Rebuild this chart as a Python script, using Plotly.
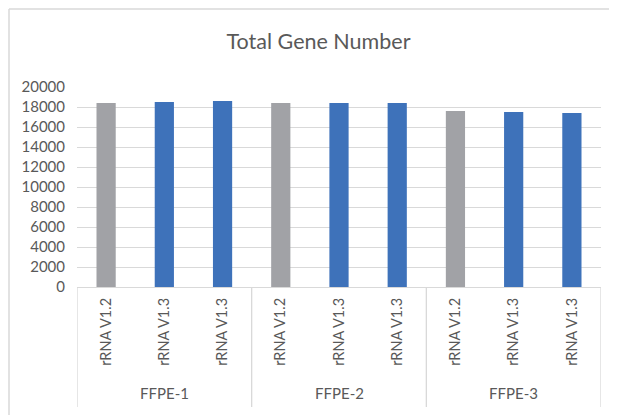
import plotly.graph_objects as go

# Data
groups = ["FFPE-1", "FFPE-2", "FFPE-3"]
labels = ["rRNA V1.2", "rRNA V1.3", "rRNA V1.3",
          "rRNA V1.2", "rRNA V1.3", "rRNA V1.3",
          "rRNA V1.2", "rRNA V1.3", "rRNA V1.3"]
values = [18400, 18500, 18600, 18400, 18400, 18400, 17600, 17500, 17400]
y_ticks = [0, 2000, 4000, 6000, 8000, 10000, 12000, 14000, 16000, 18000, 20000]
y_tick_text = [str(v) for v in y_ticks]

GREY = "#a1a2a6"
BLUE = "#3e72ba"
TEXT = "#595959"
GRID = "#d9d9d9"

x_pos = list(range(len(labels)))
colors = [GREY if l.endswith("1.2") else BLUE for l in labels]

fig = go.Figure()
fig.add_trace(go.Bar(x=x_pos, y=values, marker=dict(color=colors, line=dict(width=0)),
                     width=0.33, hoverinfo="y"))

OFF = 8  # page body margin offset
W, H = 617 - OFF, 415 - OFF
ml, mr, mt, mb = 77 - OFF, 16, 87 - OFF, 128
pw, ph = W - ml - mr, H - mt - mb

def py(yp):  # reference pixel y -> paper y
    return (H - mb - (yp - OFF)) / ph

def pxx(xp):  # reference pixel x -> paper x
    return (xp - OFF - ml) / pw

shapes = []
# outer chart border: only top and left edges are visible
shapes.append(dict(type="line", xref="paper", yref="paper",
                   x0=pxx(9), x1=pxx(617), y0=py(9), y1=py(9),
                   line=dict(color=GRID, width=1.5), layer="below"))
shapes.append(dict(type="line", xref="paper", yref="paper",
                   x0=pxx(9), x1=pxx(9), y0=py(9), y1=py(415),
                   line=dict(color=GRID, width=1.5), layer="below"))
n_per = len(labels) // len(groups)
for i in range(len(groups) + 1):
    xb = i * n_per - 0.5
    shapes.append(dict(type="line", xref="x", yref="paper", x0=xb, x1=xb,
                       y0=0, y1=py(407), line=dict(color=GRID, width=1.3)))

annotations = []
for i, g in enumerate(groups):
    annotations.append(dict(text=g, xref="x", yref="paper", x=i * n_per + (n_per - 1) / 2,
                            y=py(393), showarrow=False, yanchor="middle",
                            font=dict(family="Lato", size=15, color=TEXT)))

fig.update_layout(
    width=W, height=H,
    margin=dict(l=ml, r=mr, t=mt, b=mb),
    paper_bgcolor="white", plot_bgcolor="white",
    showlegend=False,
    title=dict(text="Total Gene Number", x=(318.5 - OFF) / W, xanchor="center", xref="container",
               y=1 - (41 - OFF) / H, yanchor="middle", yref="container",
               font=dict(family="Lato", size=21.5, color=TEXT)),
    xaxis=dict(range=[-0.5, len(labels) - 0.5], tickmode="array", tickvals=x_pos, ticktext=labels,
               tickangle=-90, showgrid=False, zeroline=False, showline=True, linecolor=GRID,
               linewidth=1.3, ticks="", ticklabelstandoff=4,
               tickfont=dict(family="Lato", size=14.5, color=TEXT), fixedrange=True),
    yaxis=dict(range=[0, 20000], tickmode="array", tickvals=y_ticks, ticktext=y_tick_text,
               showgrid=True, gridcolor=GRID, gridwidth=1.3, zeroline=False, showline=False,
               ticks="", ticklabelstandoff=11,
               tickfont=dict(family="Lato", size=15, color=TEXT), fixedrange=True),
    shapes=shapes, annotations=annotations, bargap=0.67,
)

fig.write_html(
    "out.html",
    config={"displayModeBar": False},
    post_script="document.documentElement.style.overflow='hidden';document.body.style.overflow='hidden';",
)
